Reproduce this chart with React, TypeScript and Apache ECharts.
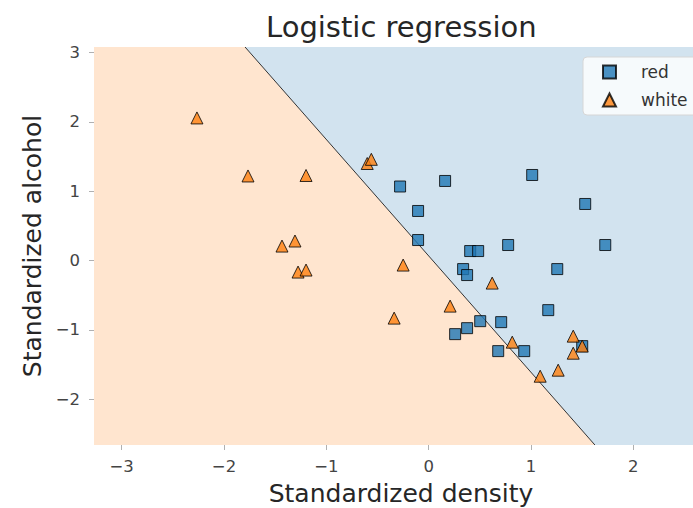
import { useEffect, useRef } from "react";
import * as echarts from "echarts";

// Class labels shown in the legend
const classNames = ["red", "white"];

// Standardized (density, alcohol) of the "red" samples
const redDensity = [
  -0.279, 0.161, 1.012, 1.53, -0.103, -0.103, 0.406, 0.484, 0.777, 1.726, 0.337,
  0.376, 1.257, 1.169, 0.709, 0.504, 0.376, 0.259, 0.68, 0.934, 1.501,
];
const redAlcohol = [
  1.068, 1.148, 1.234, 0.816, 0.715, 0.296, 0.137, 0.137, 0.224, 0.224, -0.123,
  -0.209, -0.123, -0.715, -0.888, -0.874, -0.975, -1.061, -1.306, -1.306, -1.234,
];

// Standardized (density, alcohol) of the "white" samples
const whiteDensity = [
  -2.264, -1.765, -1.198, -0.6, -0.56, -1.433, -1.306, -1.276, -1.198, -0.249,
  -0.337, 0.21, 0.621, 0.817, 1.09, 1.266, 1.413, 1.501, 1.413,
];
const whiteAlcohol = [
  2.057, 1.22, 1.227, 1.4, 1.46, 0.209, 0.282, -0.166, -0.137, -0.065, -0.83,
  -0.657, -0.325, -1.177, -1.668, -1.581, -1.09, -1.234, -1.336,
];

// Axis extents and tick values
const densityRange = [-3.27, 2.73];
const alcoholRange = [-2.66, 3.08];
const densityTicks = [-3, -2, -1, 0, 1, 2];
const alcoholTicks = [-2, -1, 0, 1, 2, 3];

// Decision boundary of the fitted logistic regression (where it meets the plot edges)
const boundaryDensity = [-1.794, 1.625];
const boundaryAlcohol = [3.08, -2.66];

const FONT = "DejaVu Sans";
const minus = (v: number | string) => String(v).replace("-", "\u2212");

export default function App() {
  const ref = useRef<HTMLDivElement>(null);

  useEffect(() => {
    if (!ref.current) return;
    const chart = echarts.init(ref.current, undefined, { renderer: "svg" });

    const [x0, x1] = densityRange;
    const [y0, y1] = alcoholRange;
    const top = [boundaryDensity[0], boundaryAlcohol[0]];
    const bottom = [boundaryDensity[1], boundaryAlcohol[1]];
    // Two decision regions, each a polygon bounded by the plot edges and the boundary
    const regions = [
      [[x0, y1], top, bottom, [x0, y0]],
      [top, [x1, y1], [x1, y0], bottom],
    ];
    const regionFills = ["#ffe5cf", "#d2e3ef"];

    chart.setOption({
      animation: false,
      textStyle: { fontFamily: FONT },
      title: {
        text: "Logistic regression",
        left: 266,
        top: 12,
        padding: 0,
        textStyle: { fontFamily: FONT, fontSize: 29, fontWeight: "normal", color: "#262626" },
      },
      // the plot area runs a little past the right edge of the canvas
      grid: { left: 94, right: -15, top: 47, bottom: 63, outerBoundsMode: "none", containLabel: false },
      legend: {
        orient: "vertical",
        left: 583,
        top: 57,
        padding: [6, 30, 6, 19],
        itemWidth: 13,
        itemHeight: 13,
        itemGap: 10,
        selectedMode: false,
        backgroundColor: "rgba(255,255,255,0.8)",
        borderColor: "#d6d6d6",
        borderWidth: 1,
        borderRadius: 4,
        textStyle: { fontFamily: FONT, fontSize: 17, color: "#333", lineHeight: 18, padding: [0, 0, 0, 20] },
        data: [
          { name: classNames[0], icon: "rect" },
          { name: classNames[1], icon: "triangle" },
        ],
      },
      xAxis: {
        type: "value",
        min: x0,
        max: x1,
        name: "Standardized density",
        nameLocation: "middle",
        nameGap: 36,
        nameTextStyle: { fontFamily: FONT, fontSize: 25, color: "#262626" },
        axisLine: { show: false, onZero: false },
        splitLine: { show: false },
        axisTick: { show: true, customValues: densityTicks, length: 5, lineStyle: { color: "#b0b0b0" } },
        axisLabel: { customValues: densityTicks, fontSize: 16.5, color: "#444", margin: 13, formatter: minus },
      },
      yAxis: {
        type: "value",
        min: y0,
        max: y1,
        name: "Standardized alcohol",
        nameLocation: "middle",
        nameGap: 48,
        nameTextStyle: { fontFamily: FONT, fontSize: 25, color: "#262626" },
        axisLine: { show: false, onZero: false },
        splitLine: { show: false },
        axisTick: { show: true, customValues: alcoholTicks, length: 5, lineStyle: { color: "#b0b0b0" } },
        axisLabel: { customValues: alcoholTicks, fontSize: 16.5, color: "#444", margin: 14, formatter: minus },
      },
      series: [
        {
          type: "custom",
          silent: true,
          z: 0,
          data: regions.map((_, i) => [i, 0]),
          renderItem: (params: any, api: any) => {
            const pts = regions[params.dataIndex].map((p) => api.coord(p));
            return {
              type: "polygon",
              shape: { points: pts },
              style: { fill: regionFills[params.dataIndex] },
            };
          },
        },
        {
          type: "line",
          silent: true,
          z: 1,
          symbol: "none",
          data: [top, bottom],
          lineStyle: { color: "#333", width: 1 },
        },
        {
          name: classNames[0],
          type: "scatter",
          z: 2,
          symbol: "rect",
          symbolSize: 11,
          data: redDensity.map((d, i) => [d, redAlcohol[i]]),
          itemStyle: { color: "#1f77b4", borderColor: "#000", borderWidth: 1, opacity: 0.8 },
        },
        {
          name: classNames[1],
          type: "scatter",
          z: 3,
          symbol: "triangle",
          symbolSize: 12,
          data: whiteDensity.map((d, i) => [d, whiteAlcohol[i]]),
          itemStyle: { color: "#ff7f0e", borderColor: "#000", borderWidth: 1, opacity: 0.8 },
        },
      ],
    });

    return () => chart.dispose();
  }, []);

  return (
    <div
      ref={ref}
      style={{ position: "fixed", left: 0, top: 0, width: 693, height: 508, background: "#fff" }}
    />
  );
}
